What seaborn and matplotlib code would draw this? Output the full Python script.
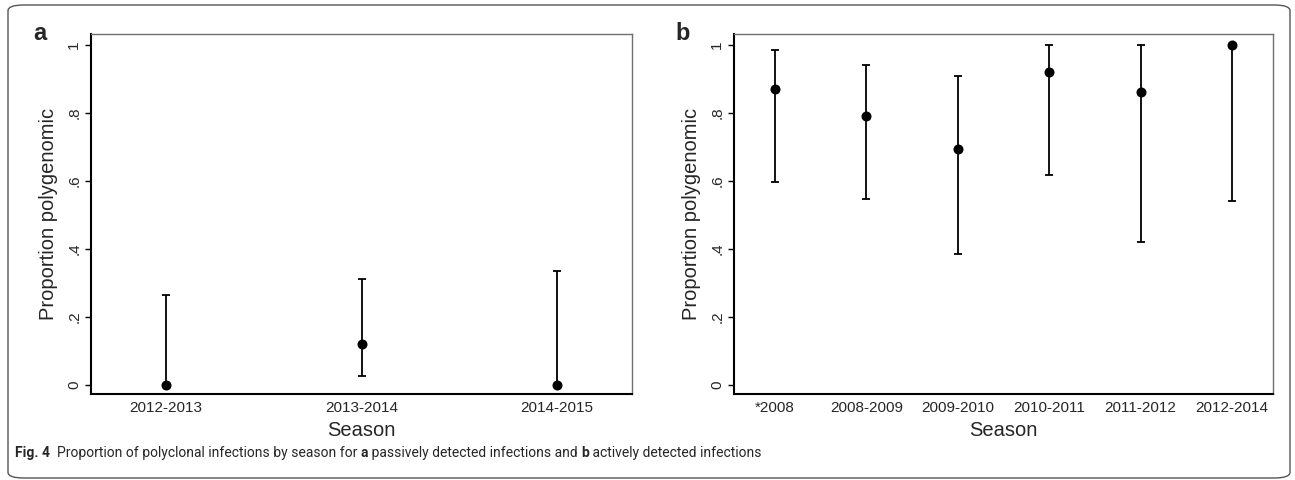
import matplotlib
matplotlib.use("Agg")
import matplotlib.pyplot as plt
import seaborn as sns
import pandas as pd
from matplotlib.patches import FancyBboxPatch

# panel a: passively detected infections
seasons_a = ["2012-2013", "2013-2014", "2014-2015"]
prop_a = [0.0, 0.119, 0.0]
lower_a = [0.0, 0.025, 0.0]
upper_a = [0.265, 0.311, 0.335]

# panel b: actively detected infections
seasons_b = ["*2008", "2008-2009", "2009-2010", "2010-2011", "2011-2012", "2012-2014"]
prop_b = [0.868, 0.790, 0.694, 0.918, 0.860, 1.0]
lower_b = [0.596, 0.545, 0.385, 0.617, 0.421, 0.541]
upper_b = [0.985, 0.940, 0.909, 1.0, 0.998, 1.0]

yticks = [0, 0.2, 0.4, 0.6, 0.8, 1.0]
ytick_labels = ["0", ".2", ".4", ".6", ".8", "1"]

sns.set_style("ticks")
plt.rcParams["font.family"] = ["Liberation Sans", "DejaVu Sans"]


def draw_panel(ax, seasons, prop, lower, upper, letter, pad):
    df = pd.DataFrame({"Season": seasons, "prop": prop, "lo": lower, "hi": upper})
    sns.scatterplot(data=df, x="Season", y="prop", ax=ax, color="black",
                    s=52, edgecolor="black", linewidth=0, zorder=3)
    ax.errorbar(range(len(df)), df["prop"],
                yerr=[df["prop"] - df["lo"], df["hi"] - df["prop"]],
                fmt="none", ecolor="black", elinewidth=1.3,
                capsize=2.8, capthick=1.3, zorder=2)
    ax.set_xlim(-pad, len(df) - 1 + pad)
    ax.set_ylim(-0.027, 1.031)
    ax.set_yticks(yticks)
    ax.set_yticklabels(ytick_labels, rotation=90, va="center", fontsize=11)
    ax.tick_params(axis="y", length=4, width=1, pad=3, color="black")
    ax.tick_params(axis="x", length=0, pad=5, labelsize=11)
    ax.set_xlabel("Season", fontsize=14.5, labelpad=4)
    ax.set_ylabel("Proportion polygenomic", fontsize=14.5, labelpad=7)
    for side in ["left", "bottom"]:
        ax.spines[side].set_color("black")
        ax.spines[side].set_linewidth(1.5)
    for side in ["top", "right"]:
        ax.spines[side].set_visible(True)
        ax.spines[side].set_color("#707070")
        ax.spines[side].set_linewidth(1.0)
    ax.text(-0.095, 1.0, letter, transform=ax.transAxes, fontsize=17,
            fontweight="bold", ha="center", va="center")


fig = plt.figure(figsize=(12.95, 4.8), dpi=100)
ax_a = fig.add_axes([91 / 1295, 1 - 394 / 480, 541 / 1295, 360 / 480])
ax_b = fig.add_axes([734 / 1295, 1 - 394 / 480, 539 / 1295, 360 / 480])

draw_panel(ax_a, seasons_a, prop_a, lower_a, upper_a, "a", 0.384)
draw_panel(ax_b, seasons_b, prop_b, lower_b, upper_b, "b", 0.45)

# rounded frame around the figure
frame = FancyBboxPatch((8 / 1295, 2 / 480), 1282 / 1295, 473 / 480,
                       boxstyle="round,pad=0,rounding_size=0.012",
                       transform=fig.transFigure, fill=False,
                       edgecolor="#555555", linewidth=1.0)
fig.patches.append(frame)

# caption with bold pieces
caption = [("Fig. 4", "bold"), ("  Proportion of polyclonal infections by season for ", "normal"),
           ("a", "bold"), (" passively detected infections and ", "normal"),
           ("b", "bold"), (" actively detected infections", "normal")]
fig.canvas.draw()
renderer = fig.canvas.get_renderer()
x = 15
for piece, weight in caption:
    t = fig.text(x / 1295, 1 - 453 / 480, piece, fontsize=10, fontweight=weight,
                 family=["Roboto", "DejaVu Sans"],
                 ha="left", va="center")
    x += t.get_window_extent(renderer).width

fig.savefig("out.png", dpi=100)
